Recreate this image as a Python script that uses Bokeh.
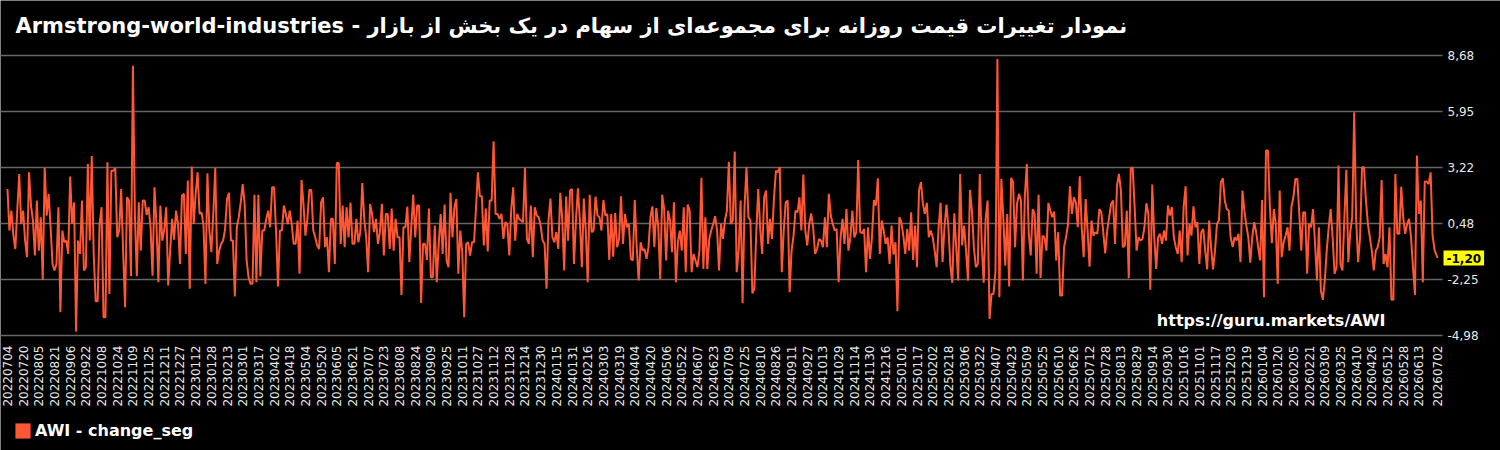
import math
import pandas as pd
from bokeh.plotting import figure
from bokeh.models import (Range1d, Label, Legend, LegendItem, ColumnDataSource)
from bokeh.core.properties import value
from bokeh.embed import file_html
from bokeh.resources import INLINE

title_text = "Armstrong-world-industries - نمودار تغییرات قیمت روزانه برای مجموعه‌ای از سهام در یک بخش از بازار"
series_name = "AWI - change_seg"
watermark = "https://guru.markets/AWI"
start_date = "2022-07-04"
end_date = "2026-07-02"
tick_step_days = 16

# daily change values, one every second day
seg_2022 = [
    2.17, 0.14, 1.11, -0.07, -0.76, 1.11, 2.90, 0.46, 1.11, -0.35,
    -1.16, 2.98, 1.36, 0.62, -1.08, 1.60, -0.84, 0.79, -2.27, 3.19,
    0.87, 1.93, 0.30, -1.49, -1.81, -1.49, 1.28, -3.84, 0.14, -0.43,
    -0.35, -1.00, 2.77, 0.46, 1.52, -4.79, -0.35, -1.00, 1.60, -1.81,
    -1.65, 3.39, -0.35, 3.78, -1.00, -3.31, -3.31, 0.46, 1.28, -4.09,
    -4.09, 3.47, -2.95, 3.06, 3.06, 3.19, -0.19, 0.14, 2.17, -0.84,
    -3.60, 1.76, 1.60, -2.09, 8.18,
    0.95, -2.09, 1.52, -0.84, 1.60, 1.60, 0.90, 1.28, 0.30, -2.06,
    2.25, 0.46, -2.38, 1.36, -0.35, 0.20, 1.28, -2.54, -0.84, 0.71,
    -0.30, 1.11, 0.46, -1.49, 1.85, 1.93, -1.00, 2.58, -2.70, 3.26,
    0.46, 1.93, 2.98, 0.95, 1.03, 0.40, -2.46, 2.93, 0.14, -0.92,
    0.95, 3.19, -1.49, -0.84, -0.51, -0.35, 0.20, 1.68, 1.98, -0.35,
    -0.35, -3.08, 0.30, 0.79, 1.50, 2.41, 1.44, -1.32, -2.14,
]
seg_2023 = [
    -2.46, -2.46, 1.89, -2.38, 1.88, -2.10, 0.14, 0.14, 0.71, 1.11,
    0.30, 2.25, 2.25, 0.14, -2.59, 0.14, 0.14, 1.36, 0.95, 0.46,
    1.11, 0.46, -0.51, -0.51, 0.63, -1.97, 2.61, 1.44, -0.11, 0.71,
    2.12, 2.12, 0.14, -0.19, -0.59, -0.76, 1.52, 1.76, -0.67, -0.19,
    -1.89, 0.71, 0.71, -1.49, 3.44, 3.44, -0.51, 1.36, -0.67, 1.28,
    -0.19, 1.50, -0.51, -0.51, 0.71, -0.43, 0.06, 2.46, 0.71, -0.19,
    -1.89, 1.44, 0.95, 0.06, 0.71, -0.51, 0.06, 1.44, -1.08, 0.95,
    0.95, -0.76, 1.21, -0.84, 0.71, -0.19, -0.19, -3.00, 0.30, 0.30,
    1.31, -1.40, 0.30, 1.89, -0.19, 1.36, 1.36, -3.39, -0.51, -0.51,
    -1.29, 1.21, -2.14, -2.14, 0.38, -2.38, -0.51, 0.95, -1.00, 1.41,
    -1.32, -1.65, 1.98, -0.19, 1.28, 1.68, -1.97, 0.14, -0.92, -4.09,
    -0.51, -0.43, -1.08, -0.43, -0.43, 1.21, 2.98, 1.81, 1.81, -0.59,
    1.21, -0.88, 1.60, 1.60, 4.49, 0.95, 0.95, 0.71,
]
seg_2024a = [
    0.95, -0.27, 0.55, 0.46, -1.08, 1.19, 2.25, -0.35,
    0.95, 0.71, 0.63, 0.55, 3.19, -0.27, -0.51, 1.36, -1.16,
    1.28, 0.87, 0.79, 0.38, -0.35, -0.51, -2.70, 0.63,
    1.70, -0.19, -0.43, 0.06, -0.76, 1.98, 0.71, -1.81,
    1.80, -0.35, 2.09, 2.17, -1.49, 0.63, 2.20, 0.63, -1.65, 1.70,
    0.14, -2.38, 1.89, 0.06, 0.14, 1.80, 0.87, 0.79,
    0.14, 1.63, 0.87, 0.95, -1.29, 0.95, -1.13, 1.00, -0.67,
    -0.27, 1.81, -0.51, 0.95, 0.30, 0.46, -1.24,
    -1.32, 1.63, -0.67, -2.30, -0.43, -0.84, -0.76, -1.24, -0.67,
    0.79, 1.32, -0.67, 1.24, 0.30, -2.22, 1.89, 1.19,
    -1.32, 1.11, 0.63, -0.92, 1.52, -2.38, -0.43, 0.14, -0.84,
    1.28, -1.89, 1.41, 1.11, -1.89, -1.00, -1.32, -1.65,
    -0.84, 2.71, -1.73, 0.79, -1.73, -0.27, 0.14, 0.46,
    0.84, 0.14, -1.81, 0.46, -0.27, 0.63, 1.11, 3.50, 0.46,
    0.63, 3.99, -1.89, -0.84, 1.60, -3.40, 1.28, 3.23,
    0.79,
]
seg_2024b = [
    0.63, -2.92, -2.70, 0.06, 2.17, 0.22, -1.00, 1.76, 2.09, -0.51,
    0.71, -0.27, 1.68, 3.06, 2.98, 3.23, -1.89, 0.14, 1.52, 1.60,
    -2.87, -0.84, -0.11, 1.11, 1.03, 1.76, 0.14, 2.87,
    0.14, -0.59, 0.46, 0.98, 0.30, -1.00, -0.76, -0.27, -0.35, -0.67,
    0.79, -0.67, 1.93, 0.87, 0.46, 0.14, 0.22, -2.38, -0.19,
    0.71, -0.51, 1.19, -0.84, -0.19, 1.11, -0.19, 0.06, 3.58,
    0.06, 0.01, 0.22, -1.89, 0.30, -1.24, -0.19, 1.63, 1.36,
    2.69, -1.00, 0.63, 0.14, -0.51, -0.19, -1.49, 0.38, -1.03,
    -0.43, -3.79, 0.79, 0.55, -0.11, -1.00, 0.22, -0.84,
    1.03, -1.29, 0.38, -1.65, 2.09, 2.50, 1.44, 0.95,
    1.49, -0.19, 0.14, -0.19, -0.84, -1.65, 0.30, 1.49, -1.40, 0.30,
    1.41, 0.30, -1.57, -2.41, 0.98, -0.67, -2.30, 2.90,
    -0.59, 0.38, -0.84, -2.30, 2.12, 1.11, -0.67, -1.65, -1.49,
    2.90, -0.51, -2.41, 0.71, 1.60, -4.17, -2.95, -2.95, -1.89,
    8.51, -3.11,
]
seg_2025 = [
    2.66, 0.79, -1.57, 0.95, -2.59, 2.71, 2.50, -0.67,
    1.44, 1.93, 1.60, -2.30, 1.85, 3.39, -0.02,
    -1.08, 1.19, 0.95, -1.97, 1.89, -2.17, -0.11, -0.19, -0.84,
    1.49, 1.11, 0.79, 1.07, -1.32, 0.06, -3.03, -3.03, -0.67,
    -0.19, 0.43, 2.30, 0.95, 1.76, 1.52, 0.30, 2.79, 0.30, -1.16,
    1.68, 0.14, -1.62, 0.63, -0.11, 0.06, -0.02, 1.19, 1.03, 0.06,
    -0.97, 0.14, 0.79, 1.44, 1.60, -0.51, 2.33, 2.90, 2.09, -0.67,
    -0.59, 1.11, -2.19, 3.15, 3.23, 1.28, -0.84, -0.19, -0.35, -0.27,
    0.30, 1.47, 0.95, -2.75, 2.38, -0.19, -1.73, -0.19, -0.02, -0.51,
    0.14, -0.35, 1.36, 0.87, 1.28, -0.19, -0.67, -1.00, 0.14, -1.40,
    1.28, 2.30, -1.08, 0.46, -0.11, 1.32, 0.30, 0.55, -1.49, 0.06,
    0.22, -0.84, -1.76, 0.63, -0.67, -1.76, -0.84,
    0.46, 0.63, 2.50, 2.69, 1.60, 1.19, 1.11, -0.19,
    -0.67, -0.19, -0.35, -0.02, -1.40, 2.09, 1.11, 0.38, -0.19, -1.43,
]
seg_2026 = [
    -0.19, 0.55, 0.06, -0.67, -1.32, 1.63, -3.11, 4.04, 4.04,
    1.28, -0.48, 1.19, 0.46, -2.46,
    2.09, -1.16, -0.43, -0.11, 0.30, -0.84, 1.31, 1.76, 2.66, 2.66,
    0.95, -0.84, 1.03, 1.03, -1.97, 0.46, 0.30, 1.19, -0.43, -2.30, 0.30, -2.79,
    -3.24, -2.30, -0.84, 0.30, 1.19, -0.19, -1.97, -1.65, 3.31,
    -1.49, -1.81, 0.79, 3.11, -1.40, 0.06, 0.79, 5.91,
    0.68, -1.40, -0.19, 3.23, 3.23,
    1.60, 0.46, -0.19, -0.84, -1.81, -0.84, -0.67, -0.19, 2.61,
    -1.49, -1.00, -1.65, 0.30, -3.24, -3.24, 2.90, -0.02, -0.02, 2.28,
    0.79, -0.02, 0.46, 0.71, -0.19, -1.65, -3.00, 3.80,
    0.95, 1.60, -2.38, 2.53, 2.53, 2.41, 2.98, -0.11, -0.80, -1.20,
]

values = seg_2022 + seg_2023 + seg_2024a + seg_2024b + seg_2025 + seg_2026
n = len(values)
dates = list(pd.date_range(start_date, periods=n - 1, freq="2D")) + [pd.Timestamp(end_date)]
day = [(d - dates[0]).days for d in dates]
last_value = values[-1]

y_min, y_max = -4.98, 8.68
y_ticks = [y_min + k * (y_max - y_min) / 5 for k in range(6)]
y_labels = [f"{t:.2f}".replace(".", ",") for t in y_ticks]
x_ticks = list(range(0, day[-1] - tick_step_days + 1, tick_step_days)) + [day[-1]]
x_labels = [(dates[0] + pd.Timedelta(days=t)).strftime("%Y%m%d") for t in x_ticks]

LINE_COLOR = "#FF5733"
TXT = "#e8e8e8"
FONT = "DejaVu Sans"
W, H = 1500, 450
TOP, BOTTOM = 55, 335              # pixel rows of the value range y_max .. y_min
PLOT_W = 1442                      # width of the data area, value scale to its right
X0, X1 = -7.1, 1464.1              # days shown across the data area
DPP = (X1 - X0) / PLOT_W           # days per pixel
YPP = (y_max - y_min) / (BOTTOM - TOP)

# the frame spans the whole canvas so every text stays inside it
p = figure(width=W, height=H, output_backend="svg", toolbar_location=None,
           x_range=Range1d(X0, X0 + DPP * W),
           y_range=Range1d(y_min - YPP * (H - BOTTOM), y_max + YPP * TOP),
           x_axis_location=None, y_axis_location=None,
           min_border_left=0, min_border_right=0, min_border_top=0, min_border_bottom=0)
p.background_fill_color = "black"
p.border_fill_color = "black"
p.outline_line_color = None
p.grid.visible = False

# horizontal grid across the data area
p.segment(x0=[X0] * len(y_ticks), x1=[X1] * len(y_ticks), y0=y_ticks, y1=y_ticks,
          line_color="#666666", line_width=1.5)

src = ColumnDataSource(dict(day=day, value=values))
p.line("day", "value", source=src, line_color=LINE_COLOR, line_width=2)

# value scale on the right
p.text(x=[X1 + 5 * DPP] * len(y_ticks), y=y_ticks, text=y_labels, text_color=TXT,
       text_font=value(FONT), text_font_size="12px", text_baseline="middle",
       text_align="left")
p.add_layout(Label(x=X1 + 1 * DPP, y=last_value,
                   text=f"{last_value:.2f}".replace(".", ","),
                   text_color="black", text_font=FONT, text_font_style="bold",
                   text_font_size="12px", text_baseline="middle",
                   background_fill_color="#FFFF00", padding=3))

# date scale below the data area
p.text(x=x_ticks, y=[y_min - 10 * YPP] * len(x_ticks), text=x_labels, angle=math.pi / 2,
       text_color=TXT, text_font=value(FONT), text_font_size="12px",
       text_align="right", text_baseline="middle")

# title
p.add_layout(Label(x=15, y=H - 25, x_units="screen", y_units="screen", text=title_text,
                   text_color="white", text_font=FONT, text_font_style="bold",
                   text_font_size="21px", text_baseline="middle"))
# watermark
p.add_layout(Label(x=1385, y=H - 320, x_units="screen", y_units="screen", text=watermark,
                   text_color="white", text_font=FONT, text_font_style="bold",
                   text_font_size="16px", text_align="right", text_baseline="middle"))

# legend
nan = float("nan")
dummy = ColumnDataSource(dict(left=[nan], right=[nan], top=[nan], bottom=[nan]))
sq = p.quad(left="left", right="right", top="top", bottom="bottom", source=dummy,
            fill_color=LINE_COLOR, line_color=None)
legend = Legend(items=[LegendItem(label=series_name, renderers=[sq])],
                location=(13, 10), orientation="horizontal",
                glyph_width=19, glyph_height=19, label_standoff=3,
                padding=0, margin=0, spacing=0,
                border_line_color=None, background_fill_alpha=0,
                label_text_color="white", label_text_font=FONT,
                label_text_font_style="bold", label_text_font_size="16px")
p.add_layout(legend, "center")

open("out.html", "w").write(file_html(p, INLINE))
